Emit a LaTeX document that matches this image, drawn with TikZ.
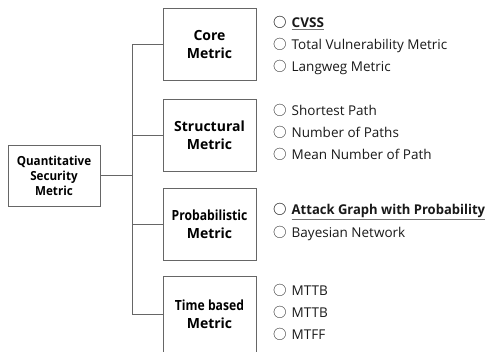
\documentclass[tikz,border=0pt]{standalone}
\usepackage{fontspec}
\setmainfont{Open Sans}
\newfontfamily\cjk{Noto Sans CJK KR}
\newfontfamily\narrowsf[FakeStretch=0.87]{Open Sans}
\newfontfamily\slimsf[FakeStretch=0.93]{Open Sans}
\newfontfamily\widesf[FakeStretch=0.965]{Open Sans}
\usetikzlibrary{positioning}
\tikzset{
  link/.style={draw=black!60, line width=0.8pt},
  metricbox/.style={draw=black!60, line width=0.8pt, minimum width=93pt, minimum height=72pt, align=center, inner sep=0pt, font=\bfseries\fontsize{14}{18}\selectfont},
  rootbox/.style={metricbox, minimum width=92pt, minimum height=61pt, font=\slimsf\bfseries\fontsize{12.5}{15}\selectfont},
  itemtext/.style={anchor=west, inner sep=0pt, font=\fontsize{13.5}{15}\selectfont, text=black!90}
}
% bullet and grey underline for the highlighted entries
\newcommand{\bul}{{\cjk ○}\hspace{5pt}}
\newcommand{\markul}[1]{\rlap{\color{black!55}\underline{\phantom{#1}}}#1}

\begin{document}
\begin{tikzpicture}[x=1pt, y=-1pt]
\useasboundingbox (0,0) rectangle (489,351);
\clip (0,0) rectangle (489,351);
\node[rootbox] (root) at (54,175.5) {Quantitative\\Security\\Metric};
\node[metricbox] (core) at (209.5,44) {Core\\Metric};
\node[metricbox] (struct) at (209.5,135) {Structural\\Metric};
\node[metricbox] (prob) at (209.5,224) {{\narrowsf\bfseries Probabilistic}\\Metric};
\node[metricbox, minimum height=76pt] (time) at (209.5,314) {{\narrowsf\bfseries Time based}\\Metric};
\coordinate (trunk) at (132,175.5);
\draw[link] (root) -- (trunk);
\foreach \b in {core,struct,prob,time}
  \draw[link] (\b.west) -| (trunk);
% entries of each metric
\node[itemtext] (cvss) at (273,23) {\bfseries\bul\markul{CVSS}};
\node[itemtext] (tvm) at (273,45.5) {\bul Total Vulnerability Metric};
\node[itemtext] (lang) at (273,68) {\bul Langweg Metric};
\node[itemtext] (sp) at (273,110) {\bul Shortest Path};
\node[itemtext] (np) at (273,132) {\bul Number of Paths};
\node[itemtext] (mnp) at (273,154) {\bul Mean Number of Path};
\node[itemtext] (agp) at (273,212) {\bfseries\bul{\widesf\bfseries\markul{Attack Graph with Probability}}};
\node[itemtext] (bn) at (273,233.5) {\bul Bayesian Network};
\node[itemtext] (mttb) at (273,290) {\bul MTTB};
\node[itemtext] (mttb2) at (273,312) {\bul MTTB};
\node[itemtext] (mtff) at (273,334) {\bul MTFF};
\end{tikzpicture}
\end{document}
